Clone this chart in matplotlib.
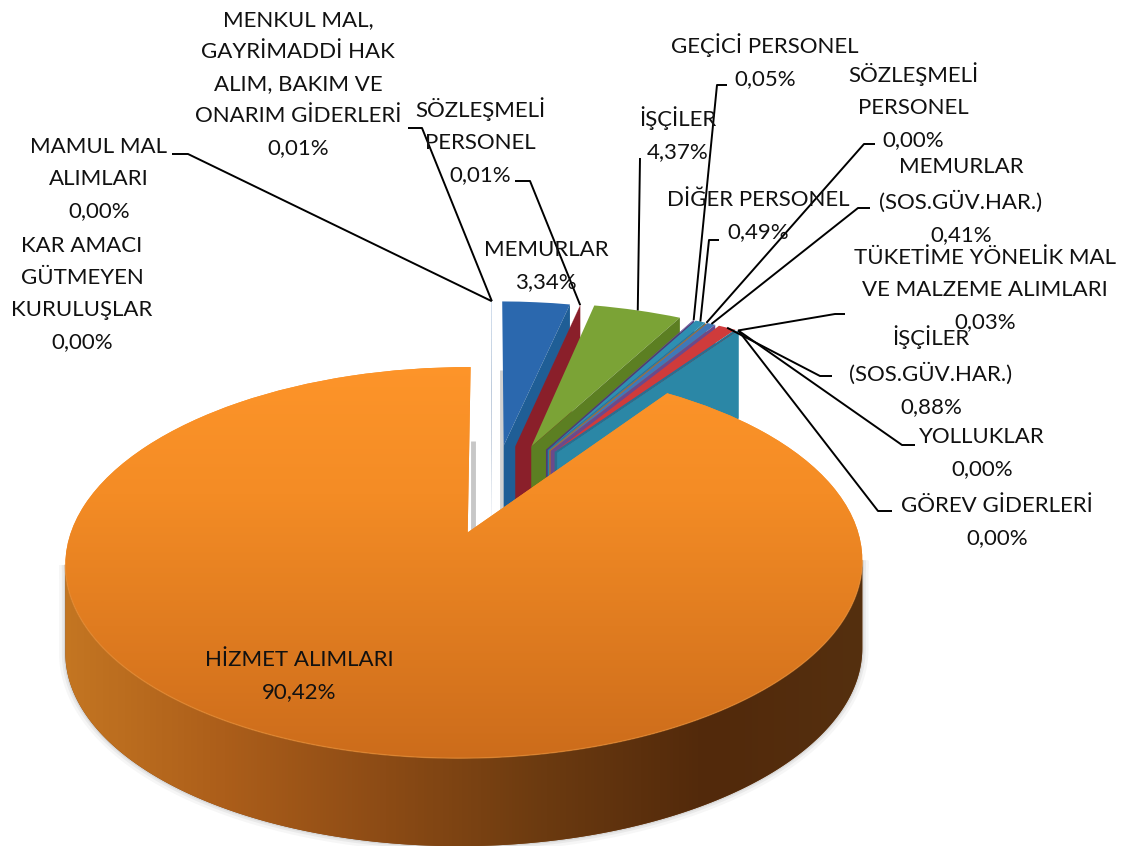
import numpy as np
import matplotlib
matplotlib.use('Agg')
import matplotlib.pyplot as plt
import matplotlib.transforms as mtransforms
from matplotlib.colors import LinearSegmentedColormap
from matplotlib.patches import Polygon

plt.rcParams['font.family'] = ['Lato', 'DejaVu Sans']

# clockwise from 12 o'clock
names = ['MEMURLAR', 'SÖZLEŞMELİ\nPERSONEL', 'İŞÇİLER', 'GEÇİCİ PERSONEL', 'DİĞER PERSONEL',
         'SÖZLEŞMELİ\nPERSONEL', 'MEMURLAR\n(SOS.GÜV.HAR.)', 'İŞÇİLER\n(SOS.GÜV.HAR.)',
         'TÜKETİME YÖNELİK MAL\nVE MALZEME ALIMLARI', 'YOLLUKLAR', 'GÖREV GİDERLERİ',
         'HİZMET ALIMLARI', 'KAR AMACI\nGÜTMEYEN\nKURULUŞLAR', 'MAMUL MAL\nALIMLARI',
         'MENKUL MAL,\nGAYRİMADDİ HAK\nALIM, BAKIM VE\nONARIM GİDERLERİ']
shares = [3.34, 0.01, 4.37, 0.05, 0.49, 0.00, 0.41, 0.88, 0.03, 0.00, 0.00, 90.42, 0.00, 0.00, 0.01]
explode = [0.3, 0.3, 0.31, 0.31, 0.31, 0.31, 0.31, 0.31, 0.31, 0.31, 0.31, 0.2, 0.3, 0.3, 0.3]
top_colors = ['#2B68AE', '#A62A35', '#7BA336', '#6A4F9A', '#2E8FB2', '#F79646', '#3F78B8', '#CF3B3B',
              '#B03030', '#2F8FAE', '#2F8FAE', '#F98F26', '#2B68AE', '#2B68AE', '#2B68AE']
wall_colors = ['#1F5E96', '#8A1F2A', '#5C7F22', '#4E3A78', '#2A7FA0', '#B06A2A', '#6A4A8C', '#2A6F90',
               '#2B87A6', '#2B87A6', '#2B87A6', '#7E4312', '#214C80', '#214C80', '#214C80']

# label layout: text centre, then elbow of the leader line (pixels)
label_xy = [(546, 266), (480, 141), (678, 134), (765, 61), (758, 216), (913, 106), (961, 201), (931, 371),
            (985, 290), (982, 453), (997, 522), (299, 676), (82, 294), (99, 179), (298, 84)]
elbows = [None, [(530, 181), (515, 181)], [(640, 158)], [(717, 85), (727, 85)], [(709, 240), (719, 240)],
          [(864, 144), (875, 144)], [(858, 208), (870, 208)], [(820, 376), (832, 376)],
          [(835, 314), (845, 314)], [(902, 445), (915, 445)], [(878, 511), (892, 511)], None, None,
          [(188, 154), (172, 154)], [(422, 128), (408, 128)]]

depth = 88
big = 11


class Persp(mtransforms.Transform):
    # tilted pie plane -> image pixels
    input_dims = 2
    output_dims = 2
    def __init__(self, a, p):
        super().__init__()
        self.a = a
        self.p = p
    def transform_non_affine(self, xy):
        xy = np.asarray(xy, dtype=float)
        w = 1 + 0.008 * xy[:, 0] + 0.15 * xy[:, 1]
        return np.column_stack([self.p + self.a * xy[:, 0] / w, 497 - 180 * xy[:, 1] / w])


fig = plt.figure(figsize=(11.4, 8.46), dpi=100)
ax = fig.add_axes([0, 0, 1, 1])
wedges, _ = ax.pie(shares, explode=explode, colors=top_colors, startangle=90, counterclock=False,
                   wedgeprops={'linewidth': 0})
ax.set_aspect('auto')
persp_big = Persp(382, 491)
persp_small = Persp(388, 492)


def rim_points(w, angles, tr):
    t = np.radians(angles)
    pts = np.column_stack([w.center[0] + w.r * np.cos(t), w.center[1] + w.r * np.sin(t)])
    return tr.transform_non_affine(pts)


for i, w in enumerate(wedges):
    if i == big:
        w.set_transform(persp_big + ax.transData)
        w.set_zorder(40)
        continue
    w.set_transform(persp_small + ax.transData)
    w.set_zorder(3 + i)
    # the cut face on the clockwise side of the slice
    a = persp_small.transform_non_affine(np.array([w.center]))[0]
    r = rim_points(w, [w.theta1], persp_small)[0]
    quad = [a, r, r + (0, depth), a + (0, depth)]
    ax.add_patch(Polygon(quad, closed=True, fc=wall_colors[i], lw=0, zorder=3 + i))

# soft shadows left of the cuts
ax.plot([473, 473], [441, 533], color='#999999', lw=3.5, alpha=0.55, zorder=1, solid_capstyle='butt')
ax.plot([502, 502], [370, 510], color='#999999', lw=3.5, alpha=0.45, zorder=1, solid_capstyle='butt')

# big slice: gradients on top and side
w = wedges[big]
ang = np.linspace(w.theta2, w.theta1, 800)
rim = rim_points(w, ang, persp_big)
i0, i1 = rim[:, 0].argmin(), rim[:, 0].argmax()
i0, i1 = min(i0, i1), max(i0, i1)
low = rim[i0:i1 + 1]
side = np.vstack([low, (low + (0, depth))[::-1]])
for lw, al in [(9, 0.05), (5, 0.08), (2, 0.12)]:
    ax.add_patch(Polygon(side, closed=True, fc='none', ec='#555555', lw=lw, alpha=al, zorder=30))
side_patch = Polygon(side, closed=True, fc='#7E4312', lw=0, zorder=31)
ax.add_patch(side_patch)
side_cm = LinearSegmentedColormap.from_list('side', ['#C47622', '#AC5E1A', '#8C4B15', '#6B3A10', '#52290B', '#55300F'])
img = ax.imshow(np.linspace(0, 1, 256)[None, :], cmap=side_cm, extent=(60, 870, 850, 540), aspect='auto',
                zorder=32, interpolation='bilinear')
img.set_clip_path(side_patch)
top_cm = LinearSegmentedColormap.from_list('top', ['#FE952A', '#F48C25', '#E07C20', '#CC6C1B'])
img2 = ax.imshow(np.linspace(0, 1, 256)[:, None], cmap=top_cm, extent=(60, 870, 760, 360), aspect='auto',
                 zorder=41, interpolation='bilinear')
img2.set_clip_path(w)
ax.plot(low[:, 0], low[:, 1], color='#E58F3A', lw=1, alpha=0.6, zorder=42)

# labels and leader lines
for i, n in enumerate(names):
    x, y = label_xy[i]
    txt = n + '\n' + f'{shares[i]:.2f}%'.replace('.', ',')
    ax.text(x, y, txt, ha='center', va='center', ma='center', fontsize=16, color='#111111',
            linespacing=1.75, zorder=60)
    if elbows[i]:
        wd = wedges[i]
        anchor = rim_points(wd, [(wd.theta1 + wd.theta2) / 2], persp_small)[0]
        pts = np.vstack([anchor, np.array(elbows[i])])
        ax.plot(pts[:, 0], pts[:, 1], color='black', lw=1.4, zorder=50, solid_capstyle='butt')

ax.set_xlim(0, 1140)
ax.set_ylim(846, 0)
ax.axis('off')
fig.savefig('out.png', dpi=100, facecolor='white')
